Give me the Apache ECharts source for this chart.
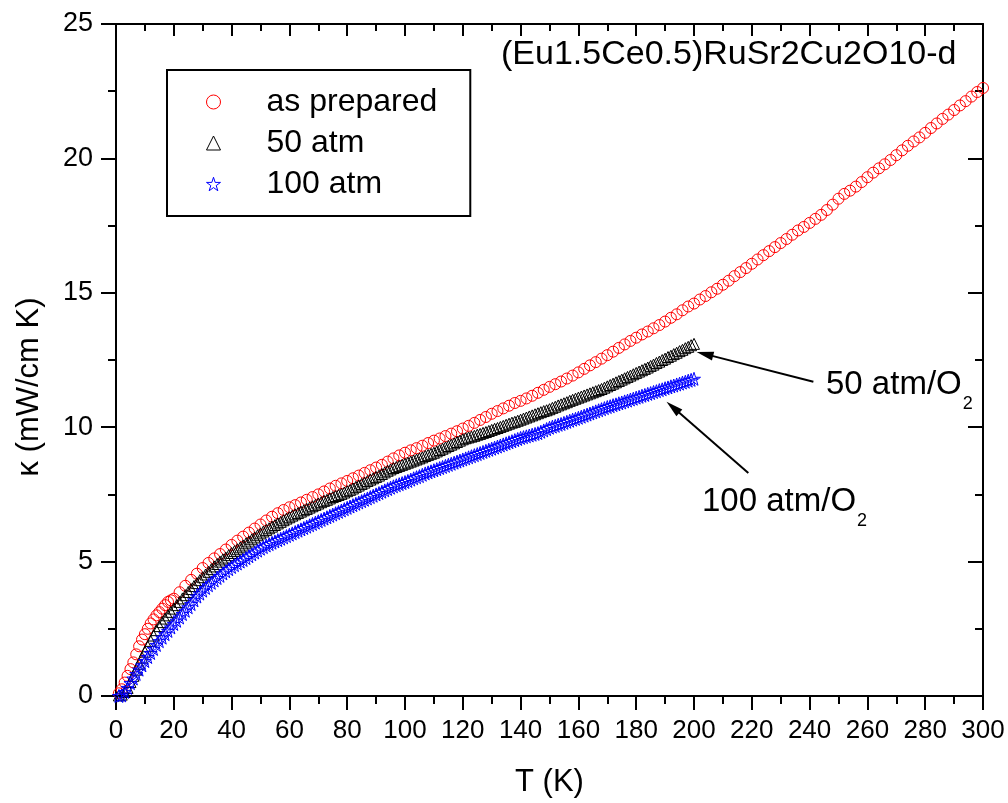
<!DOCTYPE html>
<html><head><meta charset="utf-8">
<script src="https://cdn.jsdelivr.net/npm/echarts@6/dist/echarts.min.js"></script>
<style>html,body{margin:0;padding:0;background:#fff}#c{width:1008px;height:803px}</style>
</head><body><div id="c"></div>
<script>
// ---- data ----
const seriesNames = ['as prepared', '50 atm', '100 atm'];
const xTicks = [0,20,40,60,80,100,120,140,160,180,200,220,240,260,280,300];
const yTicks = [0,5,10,15,20,25];

const redT = [1,2,3,4,5,6,7,8,9,10,11,12,13,14,15,16,17,18,19,20,
  22,24,26,28,30,32,34,36,38,40,42,44,46,48,50,52,54,56,58,60,
  62,64,66,68,70,72,74,76,78,80,82,84,86,88,90,92,94,96,98,100,
  102,104,106,108,110,112,114,116,118,120,122,124,126,128,130,132,134,136,138,140,
  142,144,146,148,150,152,154,156,158,160,162,164,166,168,170,172,174,176,178,180,
  182,184,186,188,190,192,194,196,198,200,202,204,206,208,210,212,214,216,218,220,
  222,224,226,228,230,232,234,236,238,240,242,244,246,248,250,252,254,256,258,260,
  262,264,266,268,270,272,274,276,278,280,282,284,286,288,290,292,294,296,298,300];
const redK = [0.1,0.25,0.5,0.75,1.0,1.25,1.55,1.85,2.1,2.3,2.5,2.7,2.85,3.0,3.12,3.25,3.38,3.5,3.56,3.62,
  3.86,4.1,4.32,4.55,4.76,4.95,5.12,5.28,5.45,5.62,5.78,5.93,6.08,6.23,6.38,6.53,6.67,6.8,6.92,7.02,
  7.1,7.2,7.3,7.4,7.5,7.61,7.72,7.82,7.91,8.0,8.1,8.2,8.3,8.4,8.5,8.6,8.72,8.84,8.95,9.05,
  9.14,9.22,9.31,9.41,9.5,9.58,9.67,9.76,9.85,9.95,10.05,10.16,10.27,10.38,10.5,10.6,10.7,10.8,10.9,10.98,
  11.07,11.17,11.28,11.39,11.5,11.6,11.7,11.81,11.92,12.04,12.17,12.3,12.42,12.55,12.68,12.81,12.95,13.08,13.21,13.33,
  13.45,13.56,13.68,13.8,13.93,14.07,14.2,14.35,14.49,14.6,14.75,14.88,15.02,15.15,15.3,15.45,15.62,15.77,15.92,16.08,
  16.24,16.4,16.55,16.7,16.85,17.0,17.16,17.32,17.45,17.6,17.75,17.9,18.08,18.28,18.5,18.68,18.8,18.95,19.12,19.3,
  19.47,19.63,19.78,19.94,20.12,20.3,20.47,20.63,20.78,20.95,21.13,21.3,21.47,21.63,21.8,21.97,22.13,22.3,22.47,22.62];

// T grid shared by the 50 atm and 100 atm runs
const fineT = [1,2,3,4,5,6,7,8,9,10,11,12,13,14,15,16,17,18,19,20,
  21,22,23,24,25,26,27,28,29,30,31,32,33,34,35,36,37,38,39,40,
  41,42,43,44,45,46,47,48,49,50,51,52,53,54,55,56,57,58,59,60,
  61,62,63,64,65,66,67,68,69,70,71,72,73,74,75,76,77,78,79,80,
  81,82,83,84,85,86,87,88,89,90,91,92,93,94,95,96,97,98,99,100,
  101,102,103,104,105,106,107,108,109,110,111,112,113,114,115,116,117,118,119,120,
  121,122,123,124,125,126,127,128,129,130,131,132,133,134,135,136,137,138,139,140,
  141,142,143,144,145,146,147,148,149,150,151,152,153,154,155,156,157,158,159,160,
  161,162,163,164,165,166,167,168,169,170,171,172,173,174,175,176,177,178,179,180,
  181,182,183,184,185,186,187,188,189,190,191,192,193,194,195,196,197,198,199,200];
const blackK = [0.02,0.05,0.15,0.3,0.52,0.75,0.98,1.2,1.43,1.65,1.85,2.05,2.25,2.45,2.6,2.75,2.88,3.0,3.13,3.25,
  3.38,3.5,3.63,3.75,3.87,3.98,4.09,4.2,4.31,4.42,4.52,4.62,4.72,4.82,4.91,5.0,5.08,5.15,5.24,5.32,
  5.39,5.46,5.53,5.6,5.68,5.75,5.83,5.9,5.98,6.05,6.12,6.18,6.24,6.3,6.36,6.42,6.48,6.54,6.6,6.65,
  6.71,6.76,6.81,6.86,6.91,6.96,7.01,7.06,7.11,7.16,7.21,7.26,7.3,7.35,7.4,7.44,7.48,7.52,7.57,7.62,
  7.67,7.72,7.78,7.83,7.89,7.94,8.0,8.05,8.1,8.15,8.2,8.26,8.32,8.38,8.43,8.48,8.52,8.56,8.6,8.64,
  8.68,8.72,8.76,8.8,8.84,8.88,8.93,8.97,9.01,9.05,9.1,9.15,9.2,9.25,9.3,9.35,9.4,9.45,9.5,9.55,
  9.59,9.62,9.65,9.68,9.72,9.75,9.79,9.82,9.86,9.9,9.94,9.97,10.01,10.05,10.09,10.13,10.17,10.2,10.24,10.28,
  10.32,10.36,10.4,10.44,10.48,10.52,10.56,10.6,10.63,10.67,10.72,10.76,10.81,10.85,10.89,10.93,10.98,11.02,11.06,11.1,
  11.14,11.18,11.22,11.26,11.3,11.34,11.38,11.42,11.47,11.52,11.57,11.62,11.67,11.72,11.77,11.82,11.87,11.92,11.97,12.02,
  12.07,12.12,12.17,12.22,12.28,12.33,12.39,12.44,12.5,12.55,12.61,12.66,12.72,12.77,12.83,12.88,12.94,12.99,13.05,13.1];
const blueK = [0.0,0.02,0.15,0.3,0.48,0.65,0.82,0.98,1.14,1.3,1.45,1.6,1.75,1.9,2.04,2.17,2.3,2.42,2.55,2.68,
  2.8,2.92,3.05,3.17,3.3,3.42,3.56,3.7,3.81,3.92,4.02,4.12,4.21,4.3,4.39,4.47,4.56,4.64,4.72,4.8,
  4.87,4.93,5.0,5.06,5.13,5.2,5.27,5.34,5.41,5.48,5.54,5.6,5.65,5.7,5.75,5.8,5.85,5.9,5.95,6.0,
  6.05,6.1,6.15,6.2,6.25,6.3,6.35,6.4,6.45,6.5,6.55,6.6,6.65,6.7,6.75,6.8,6.85,6.9,6.95,7.0,
  7.05,7.1,7.15,7.2,7.25,7.3,7.35,7.4,7.45,7.5,7.55,7.6,7.65,7.7,7.75,7.8,7.84,7.88,7.92,7.96,
  8.0,8.05,8.1,8.14,8.18,8.23,8.28,8.32,8.36,8.4,8.44,8.48,8.52,8.56,8.6,8.64,8.68,8.72,8.76,8.8,
  8.84,8.88,8.92,8.96,9.0,9.04,9.08,9.12,9.16,9.2,9.24,9.28,9.32,9.36,9.4,9.44,9.48,9.52,9.56,9.6,
  9.63,9.66,9.69,9.72,9.75,9.78,9.83,9.88,9.93,9.98,10.02,10.05,10.09,10.12,10.16,10.2,10.24,10.28,10.31,10.35,
  10.39,10.43,10.47,10.51,10.55,10.59,10.63,10.67,10.71,10.75,10.78,10.82,10.85,10.89,10.92,10.96,10.99,11.03,11.06,11.1,
  11.13,11.17,11.2,11.24,11.27,11.31,11.34,11.38,11.41,11.45,11.48,11.52,11.55,11.59,11.62,11.66,11.69,11.73,11.76,11.8];

// annotation arrows, in data units [T, kappa]
const arrow1From = [241.3, 11.69], arrow1To = [200.9, 12.8];
const arrow2From = [218.8, 8.3],  arrow2To = [190.5, 10.95];
const sampleLabel = '(Eu1.5Ce0.5)RuSr2Cu2O10-d';
const anno1 = ['50 atm/O', '2'];
const anno2 = ['100 atm/O', '2'];

// ---- chart ----
const FF = '"Liberation Sans", Arial, Helvetica, sans-serif';
const zip = (a, b) => b.map((v, i) => [a[i], v]);
const STAR = 'path://M50,2 L61.8,38.2 L99,38.2 L69,60.4 L80.3,96.6 L50,74.4 L19.7,96.6 L31,60.4 L1,38.2 L38.2,38.2 Z';

const chart = echarts.init(document.getElementById('c'), null, {renderer: 'canvas'});
const axisCommon = {
  type: 'value', splitLine: {show: false},
  axisLine: {show: true, onZero: false, lineStyle: {color: '#000', width: 2}}
};
const option = {
  animation: false,
  backgroundColor: '#fff',
  grid: {left: 116, right: 25, top: 24, bottom: 104, containLabel: false},
  xAxis: [
    Object.assign({}, axisCommon, {
      position: 'bottom', min: 0, max: 300, interval: 20,
      axisTick: {show: true, inside: false, length: 14, lineStyle: {color: '#000', width: 2}},
      minorTick: {show: true, splitNumber: 2, length: 8, lineStyle: {color: '#000', width: 2}},
      axisLabel: {show: true, margin: 22, fontSize: 26, fontFamily: FF, color: '#000',
        formatter: v => xTicks.includes(v) ? String(v) : ''},
      name: 'T (K)', nameLocation: 'middle', nameGap: 71,
      nameTextStyle: {fontSize: 31, fontFamily: FF, color: '#000'}
    }),
    Object.assign({}, axisCommon, {
      position: 'top', min: 0, max: 300, interval: 20,
      axisTick: {show: true, inside: true, length: 12, lineStyle: {color: '#000', width: 2}},
      minorTick: {show: true, splitNumber: 2, length: 7, lineStyle: {color: '#000', width: 2}},
      axisLabel: {show: false}
    })
  ],
  yAxis: [
    Object.assign({}, axisCommon, {
      position: 'left', min: 0, max: 25, interval: 5,
      axisTick: {show: true, inside: false, length: 15, lineStyle: {color: '#000', width: 2}},
      minorTick: {show: true, splitNumber: 2, length: 8, lineStyle: {color: '#000', width: 2}},
      axisLabel: {show: true, margin: 23, fontSize: 27, fontFamily: FF, color: '#000',
        formatter: v => yTicks.includes(v) ? String(v) : ''}
    }),
    Object.assign({}, axisCommon, {
      position: 'right', min: 0, max: 25, interval: 5,
      axisTick: {show: true, inside: true, length: 15, lineStyle: {color: '#000', width: 2}},
      minorTick: {show: true, splitNumber: 2, length: 8, lineStyle: {color: '#000', width: 2}},
      axisLabel: {show: false}
    })
  ],
  legend: {
    orient: 'vertical', left: 167, top: 70,
    padding: [16, 33, 16, 39],
    itemWidth: 14, itemHeight: 14, itemGap: 9,
    borderColor: '#000', borderWidth: 2,
    selectedMode: false,
    textStyle: {fontFamily: FF, fontSize: 32, color: '#000', lineHeight: 32, padding: [0, 0, 0, 41]},
    data: [
      {name: seriesNames[0], icon: 'circle', itemStyle: {color: 'rgba(0,0,0,0)', borderColor: '#ff0000', borderWidth: 1}},
      {name: seriesNames[1], icon: 'triangle', itemStyle: {color: 'rgba(0,0,0,0)', borderColor: '#000000', borderWidth: 1}},
      {name: seriesNames[2], icon: STAR, itemStyle: {color: 'rgba(0,0,0,0)', borderColor: '#0000ff', borderWidth: 1}}
    ]
  },
  series: [
    {name: seriesNames[0], type: 'scatter', symbol: 'circle', symbolSize: 11,
     itemStyle: {color: 'rgba(0,0,0,0)', borderColor: '#ff0000', borderWidth: 1, opacity: 1},
     data: zip(redT, redK), silent: true, clip: false},
    {name: seriesNames[1], type: 'scatter', symbol: 'triangle', symbolSize: 11,
     itemStyle: {color: 'rgba(0,0,0,0)', borderColor: '#000000', borderWidth: 1, opacity: 1},
     data: zip(fineT, blackK), silent: true, clip: false},
    {name: seriesNames[2], type: 'scatter', symbol: STAR, symbolSize: 13,
     itemStyle: {color: 'rgba(0,0,0,0)', borderColor: '#0000ff', borderWidth: 1, opacity: 1},
     data: zip(fineT, blueK), silent: true, clip: false}
  ]
};
chart.setOption(option);

// annotations
const mctx = document.createElement('canvas').getContext('2d');
function textW(t, size) { mctx.font = size + 'px "Liberation Sans"'; return mctx.measureText(t).width; }
function arrow(fromD, toD) {
  const p0 = chart.convertToPixel({gridIndex: 0}, fromD);
  const p1 = chart.convertToPixel({gridIndex: 0}, toD);
  const dx = p1[0] - p0[0], dy = p1[1] - p0[1];
  const L = Math.hypot(dx, dy), ux = dx / L, uy = dy / L;
  const hl = 17, hw = 4.5;
  const bx = p1[0] - ux * hl, by = p1[1] - uy * hl;
  return [
    {type: 'line', silent: true, shape: {x1: p0[0], y1: p0[1], x2: bx + ux * 2, y2: by + uy * 2}, style: {stroke: '#000', lineWidth: 2}},
    {type: 'polygon', silent: true, shape: {points: [[p1[0], p1[1]], [bx - uy * hw, by + ux * hw], [bx + uy * hw, by - ux * hw]]}, style: {fill: '#000'}}
  ];
}
const AF = 33, SF = 18;
const g = [];
g.push({type: 'text', silent: true, x: 501, y: 55, style: {text: sampleLabel, fill: '#000', font: '34px ' + FF, textAlign: 'left', textVerticalAlign: 'middle', verticalAlign: 'middle'}});
function subText(x, yMid, parts) {
  const w = textW(parts[0], AF);
  g.push({type: 'text', silent: true, x: x, y: yMid, style: {text: parts[0], fill: '#000', font: AF + 'px ' + FF, textAlign: 'left', textVerticalAlign: 'middle', verticalAlign: 'middle'}});
  g.push({type: 'text', silent: true, x: x + w + 1, y: yMid + 19, style: {text: parts[1], fill: '#000', font: SF + 'px ' + FF, textAlign: 'left', textVerticalAlign: 'middle', verticalAlign: 'middle'}});
}
subText(826, 385, anno1);
subText(702, 502, anno2);
g.push.apply(g, arrow(arrow1From, arrow1To));
g.push.apply(g, arrow(arrow2From, arrow2To));
g.push({type: 'text', silent: true, x: 29, y: 387, rotation: Math.PI / 2,
  style: {text: 'κ (mW/cm K)', fill: '#000', font: '31px ' + FF, textAlign: 'center', textVerticalAlign: 'middle', verticalAlign: 'middle'}});
chart.setOption({graphic: g});
</script>
</body></html>
